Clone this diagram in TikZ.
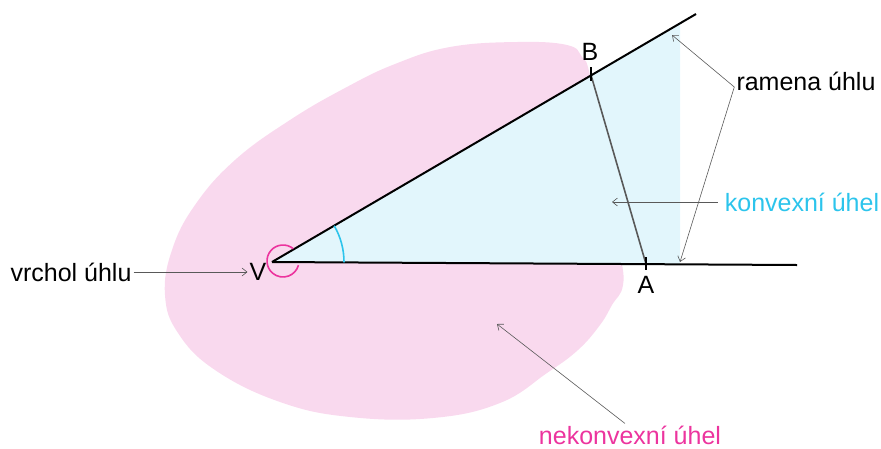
\documentclass[tikz,border=0pt]{standalone}
\usepackage{fontspec}
\setmainfont{Liberation Sans}
\usetikzlibrary{arrows.meta}
\definecolor{blobpink}{RGB}{249,217,238}
\definecolor{wedgeblue}{RGB}{226,246,252}
\definecolor{anglemag}{RGB}{236,52,158}
\definecolor{anglecyan}{RGB}{44,196,236}

\begin{document}
\begin{tikzpicture}[
  x=1pt, y=1pt,
  lbl/.style={font=\fontsize{25}{29}\selectfont, inner sep=2pt},
  ray/.style={line width=2pt, black},
  pointer/.style={-{Straight Barb[length=5pt,width=8pt]}, line width=0.6pt, black!65},
  marktick/.style={line width=1.5pt, black},
  chord/.style={line width=1.6pt, black!65},
]
\useasboundingbox (0,0) rectangle (881,-448);

% non-convex region
\fill[blobpink] plot[smooth cycle, tension=0.7] coordinates {
  (450,-47) (517,-42) (567,-45) (582,-57) (590,-75) (605,-150) (620,-250)
  (623,-285) (612,-305) (600,-325) (578,-350) (547,-373) (500,-403)
  (433,-418) (350,-417) (280,-402) (215,-370) (178,-333) (165,-295)
  (172,-250) (195,-205) (235,-160) (290,-120) (345,-88) (395,-64)};

\coordinate (v) at (272,-262);
\coordinate (u) at (696,-14);
\coordinate (w) at (797,-265);

% convex region
\fill[wedgeblue] (v) -- (680,-23) -- (680,-264) -- cycle;

\draw[ray] (v) -- (u);
\draw[ray] (v) -- (w);

% angle marks
\draw[anglecyan, line width=1.6pt] ([shift={(-0.3:72pt)}]v) arc (-0.3:30.3:72pt);
\draw[anglemag, line width=1.6pt] ([shift={(50:16pt)}]283,-261) arc (50:345:16pt);

% points A, B
\coordinate (b) at (591,-75);
\coordinate (a) at (646,-264);
\draw[chord] (b) -- (a);
\draw[marktick] (591,-67) -- (591,-81);
\draw[marktick] (646,-257) -- (646,-270);

\node[lbl] (nB) at (590,-52) {B};
\node[lbl] (nA) at (646,-285) {A};
\node[lbl] (nV) at (258,-272) {V};

% labels with pointers
\node[lbl] (vrchol) at (71,-272) {vrchol úhlu};
\draw[pointer] (vrchol.east) -- (nV.west);

\node[lbl] (ramena) at (806,-81) {ramena úhlu};
\coordinate (r1) at (672,-35);
\coordinate (r2) at (680,-262);
\draw[pointer] ([yshift=-6pt]ramena.west) -- (r1);
\draw[pointer] ([yshift=-6pt]ramena.west) -- (r2);

\node[lbl, text=anglecyan] (konvex) at (802,-202) {konvexní úhel};
\coordinate (k1) at (612,-202);
\draw[pointer] ([xshift=-5pt]konvex.west) -- (k1);

\node[lbl, text=anglemag] (nekonvex) at (630,-435) {nekonvexní úhel};
\coordinate (n1) at (497,-324);
\draw[pointer] ([xshift=-5pt]nekonvex.north) -- (n1);
\end{tikzpicture}
\end{document}
